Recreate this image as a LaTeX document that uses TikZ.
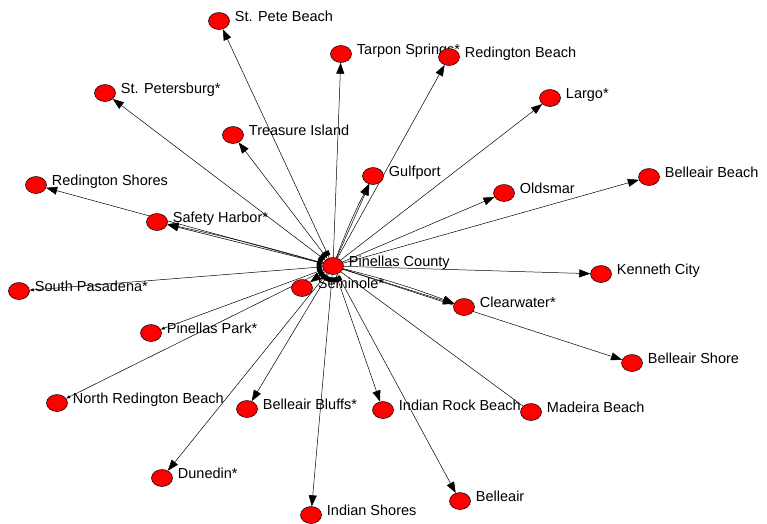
\documentclass[tikz,border=0pt]{standalone}
\usepackage{fontspec}
\setmainfont{Liberation Sans}
\usetikzlibrary{shapes.geometric,arrows.meta,backgrounds}

\tikzset{
  town/.style={ellipse, draw=black, fill=red, line width=0.5pt, minimum width=21pt, minimum height=17pt, inner sep=0pt},
  townname/.style={anchor=base west, inner sep=0pt, xshift=5pt, font=\fontsize{14.5}{16}\selectfont},
  link/.style={line width=0.5pt, -{Triangle[length=11pt,width=8pt]}},
  weak/.style={line width=0.5pt, -{Triangle[length=4pt,width=3pt]}},
}

\begin{document}
\begin{tikzpicture}[x=1pt,y=-1pt]
\useasboundingbox (0,0) rectangle (767,523);

% Hub
\node[town, label={[townname]east:Pinellas County}] (hub) at (333,266) {};

% Towns around the hub
\node[town, label={[townname]east:St. Pete Beach}] (spb) at (219,21) {};
\node[town, label={[townname]east:Tarpon Springs*}] (tarpon) at (341,54) {};
\node[town, label={[townname]east:Redington Beach}] (redb) at (449,57) {};
\node[town, label={[townname]east:St. Petersburg*}] (stpete) at (105,93) {};
\node[town, label={[townname]east:Largo*}] (largo) at (550,98) {};
\node[town, label={[townname]east:Treasure Island}] (treas) at (233,135) {};
\node[town, label={[townname]east:Gulfport}] (gulf) at (373,176) {};
\node[town, label={[townname]east:Belleair Beach}] (bbeach) at (649,177) {};
\node[town, label={[townname]east:Oldsmar}] (olds) at (504,193) {};
\node[town, label={[townname]east:Redington Shores}] (reds) at (36,185) {};
\node[town, label={[townname]east:Safety Harbor*}] (safety) at (157,222) {};
\node[town, label={[townname]east:Kenneth City}] (kenneth) at (601,274) {};
\node[town, label={[townname]east:Seminole*}] (semi) at (302,288) {};
\node[town, label={[townname]east:South Pasadena*}] (spas) at (19,291) {};
\node[town, label={[townname]east:Clearwater*}] (clear) at (464,307) {};
\node[town, label={[townname]east:Pinellas Park*}] (ppark) at (151,333) {};
\node[town, label={[townname]east:Belleair Shore}] (bshore) at (632,363) {};
\node[town, label={[townname]east:North Redington Beach}] (nredb) at (57,403) {};
\node[town, label={[townname]east:Belleair Bluffs*}] (bbluffs) at (247,409) {};
\node[town, label={[townname]east:Indian Rock Beach}] (irb) at (383,410) {};
\node[town, label={[townname]east:Madeira Beach}] (madeira) at (531,412) {};
\node[town, label={[townname]east:Dunedin*}] (dunedin) at (162,478) {};
\node[town, label={[townname]east:Belleair}] (belleair) at (460,501) {};
\node[town, label={[townname]east:Indian Shores}] (ishores) at (311,515) {};

% Links from the hub
\begin{scope}[on background layer]
\draw[link] (hub) -- (spb);
\draw[link] (hub) -- (tarpon);
\draw[link] (hub) -- (redb);
\draw[link] (hub) -- (stpete);
\draw[link] (hub) -- (largo);
\draw[link] (hub) -- (treas);
\draw[link] (hub) -- (gulf);
\draw[link] (hub) to[bend left=3] (gulf);
\draw[link] (hub) -- (bbeach);
\draw[link] (hub) -- (olds);
\draw[link] (hub) -- (reds);
\draw[link] (hub) -- (safety);
\draw[link] (hub) to[bend right=2] (safety);
\draw[link] (hub) -- (kenneth);
\draw[link] (hub) -- (semi);
\draw[weak] (hub) -- (spas);
\draw[link] (hub) -- (clear);
\draw[link] (hub) to[bend left=3] (clear);
\draw[weak] (hub) -- (ppark);
\draw[link] (hub) -- (bshore);
\draw[weak] (hub) -- (nredb);
\draw[link] (hub) -- (bbluffs);
\draw[link] (hub) -- (irb);
\draw[line width=0.5pt] (hub) -- (madeira);
\draw[link] (hub) -- (dunedin);
\draw[link] (hub) -- (belleair);
\draw[link] (hub) -- (ishores);
\end{scope}

% Self loops on the hub
\draw[line width=5pt] (hub.center) ++(255:14) arc[start angle=255, end angle=55, radius=14];

\end{tikzpicture}
\end{document}
